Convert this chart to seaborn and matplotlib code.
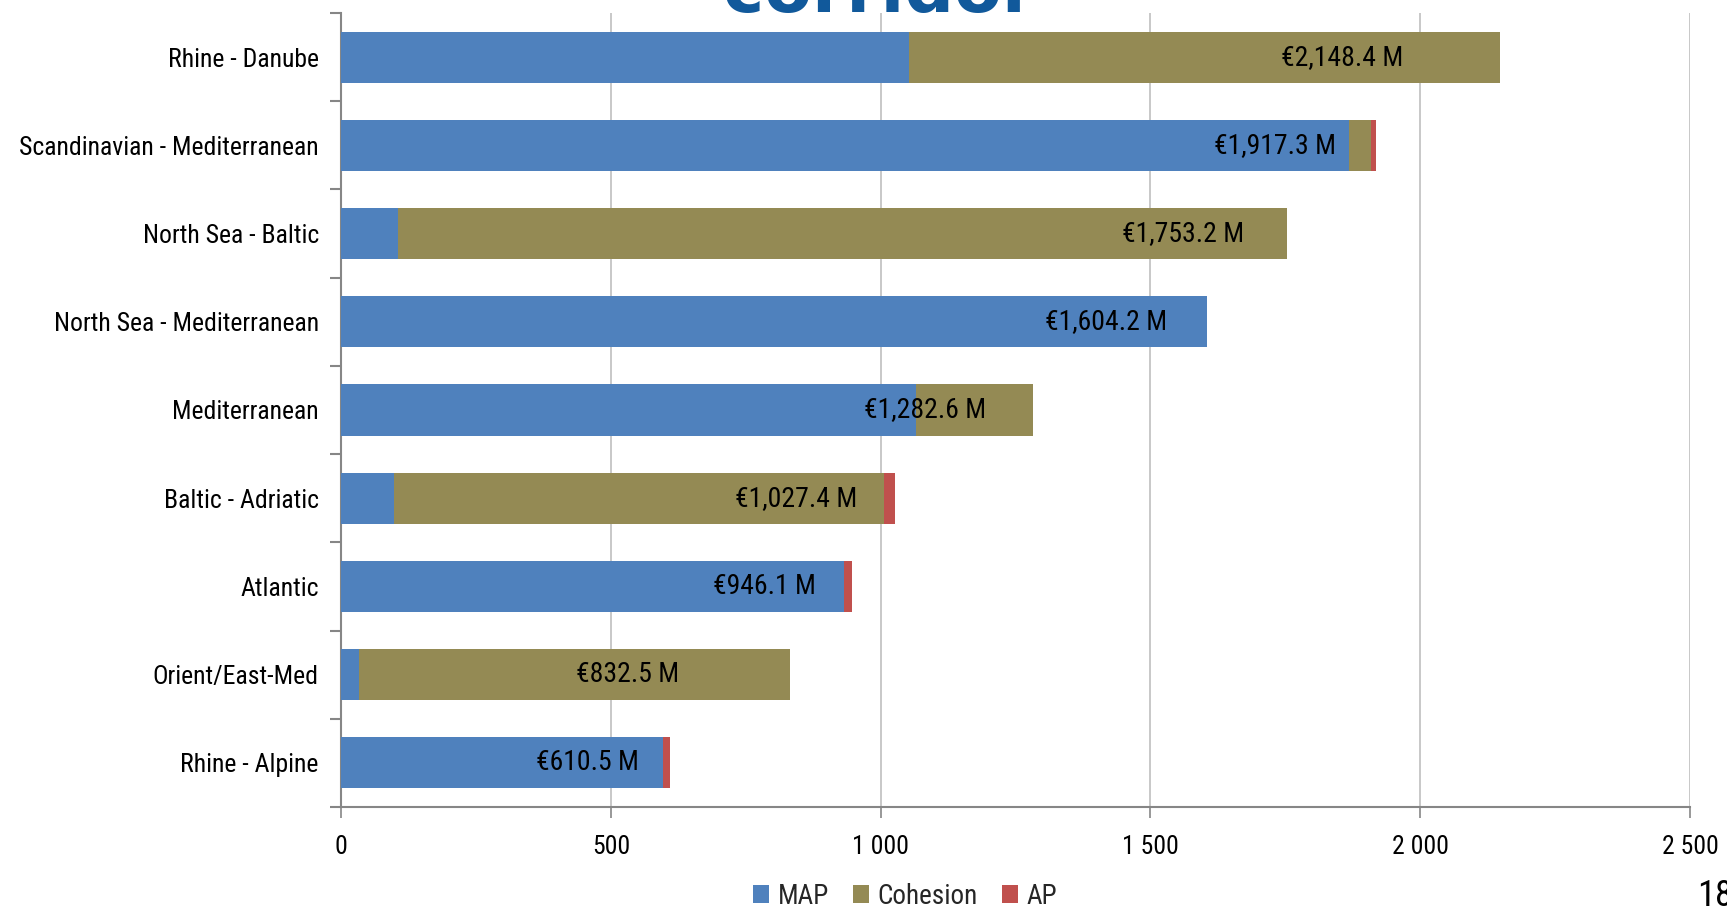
import matplotlib
matplotlib.use("Agg")
import matplotlib.pyplot as plt
import seaborn as sns
import numpy as np
import pandas as pd
from matplotlib.patches import Patch
from matplotlib.ticker import FuncFormatter, FixedLocator
from matplotlib import font_manager

corridors = ["Rhine - Danube", "Scandinavian - Mediterranean", "North Sea - Baltic",
             "North Sea - Mediterranean", "Mediterranean", "Baltic - Adriatic",
             "Atlantic", "Orient/East-Med", "Rhine - Alpine"]
map_vals = [1053, 1868, 106, 1604.2, 1066, 98, 933, 33, 597]
cohesion_vals = [1095.4, 40, 1647.2, 0, 216.6, 909, 0, 799.5, 0]
ap_vals = [0, 9.3, 0, 0, 0, 20.4, 13.1, 0, 13.5]
totals = [2148.4, 1917.3, 1753.2, 1604.2, 1282.6, 1027.4, 946.1, 832.5, 610.5]
series_names = ["MAP", "Cohesion", "AP"]
x_ticks = [0, 500, 1000, 1500, 2000, 2500]
# label placement gap (data units left of bar total), layout only
label_gap = [180, 73, 80, 74, 87, 71, 66, 205, 58]

names = {f.name for f in font_manager.fontManager.ttflist}
fam = "Roboto"
for cand in ["Liberation Sans Narrow", "DejaVu Sans Condensed", "Roboto Condensed", "Roboto"]:
    if cand in names:
        fam = cand
        break
narrow = fam != "Roboto"
fs = 18 if narrow else 16

sns.set_theme(style="white")
plt.rcParams["font.family"] = [fam, "DejaVu Sans"]

colors = {"MAP": "#4F81BD", "Cohesion": "#948A54", "AP": "#C0504D"}

fig = plt.figure(figsize=(17.27, 9.08), dpi=100)
ax = fig.add_axes([341/1727, 1-807/908, (1690-341)/1727, (807-13)/908])

df = pd.DataFrame({"corridor": corridors, "MAP": map_vals,
                   "Cohesion": cohesion_vals, "AP": ap_vals})
df["c_map"] = df["MAP"]
df["c_coh"] = df["MAP"] + df["Cohesion"]
df["c_ap"] = df["c_coh"] + df["AP"]

for col, name in [("c_ap", "AP"), ("c_coh", "Cohesion"), ("c_map", "MAP")]:
    sns.barplot(data=df, x=col, y="corridor", order=corridors, orient="h",
                color=colors[name], width=0.58, linewidth=0, saturation=1,
                ax=ax, zorder=3)

for i, (t, g) in enumerate(zip(totals, label_gap)):
    ax.text(t - g, i, f"\u20ac{t:,.1f} M", ha="right", va="center",
            fontsize=fs + 2, color="black", zorder=5)

ax.set_xlim(0, 2500)
ax.set_ylim(8.5, -0.5)
ax.set_xlabel("")
ax.set_ylabel("")
ax.xaxis.set_major_locator(FixedLocator(x_ticks))
ax.xaxis.set_major_formatter(FuncFormatter(lambda v, p: f"{int(v):,}".replace(",", " ")))
ax.grid(axis="x", color="#BFBFBF", linewidth=1.2, zorder=0)
ax.grid(axis="y", visible=False)
ax.set_axisbelow(True)

for s in ["top", "right"]:
    ax.spines[s].set_visible(False)
for s in ["left", "bottom"]:
    ax.spines[s].set_color("#868686")
    ax.spines[s].set_linewidth(1.5)

ax.tick_params(axis="x", which="major", length=8, width=1.2, color="#868686",
               labelsize=fs + 0.5, pad=12, bottom=True, labelcolor="black")
ax.tick_params(axis="y", which="major", length=0, labelsize=fs + 0.5, pad=16, labelcolor="black")
ax.yaxis.set_minor_locator(FixedLocator(np.arange(-0.5, 9.0, 1.0)))
ax.tick_params(axis="y", which="minor", length=8, width=1.5, color="#868686", left=True)

handles = [Patch(facecolor=colors[n], edgecolor="none", label=n) for n in series_names]
fig.legend(handles=handles, loc="center", bbox_to_anchor=(905/1727, 1-896/908),
           ncol=3, frameon=False, fontsize=fs + 1.5, handlelength=0.6, handleheight=0.6,
           handletextpad=0.3, columnspacing=0.9)

fig.text(880/1727, 1-12/908, "corridor", ha="center", va="baseline",
         fontsize=50, fontweight="bold", color="#11599B", family=["DejaVu Sans"])
fig.text(1697/1727, 1-878/908, "18", ha="left", va="top", fontsize=26, color="black")

fig.savefig("out.png", dpi=100)
